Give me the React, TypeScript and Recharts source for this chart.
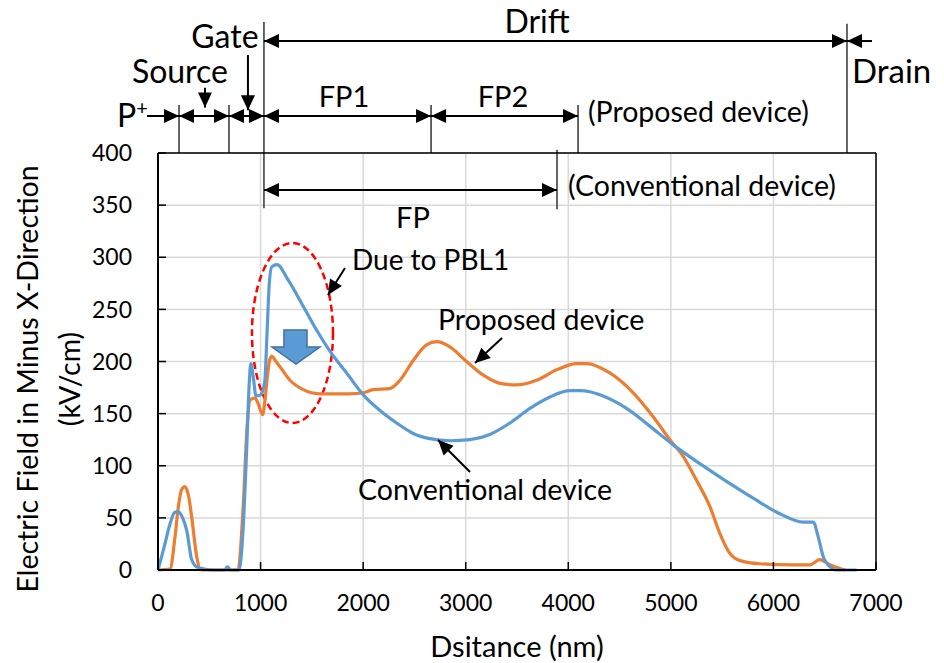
import React from 'react';
import {
  LineChart,
  Line,
  XAxis,
  YAxis,
  CartesianGrid,
  ReferenceLine,
  ReferenceDot,
  ReferenceArea,
} from 'recharts';

// Electric field along the channel (nm -> kV/cm)
const conventionalX = [
  0, 60, 120, 160, 195, 240, 280, 328, 377, 450, 550, 650, 676, 710, 790, 830, 864, 890, 905, 930,
  955, 1000, 1040, 1065, 1085, 1110, 1160, 1270, 1416, 1547, 1676, 1839, 2001, 2164, 2326, 2488,
  2651, 2846, 3041, 3236, 3431, 3626, 3821, 4016, 4113, 4211, 4308, 4568, 4795, 5023, 5283, 5542,
  5802, 6062, 6290, 6388, 6436, 6485, 6566, 6600, 6810,
];
const conventionalE = [
  0, 22, 45, 55, 56, 50, 38, 10, 3, 1, 0, 0, 3, 0, 0, 40, 115, 180, 198, 184,
  167, 168, 180, 232, 275, 291, 293, 278, 253, 230, 210, 189, 168, 153, 141, 131,
  126, 124, 125, 130, 141, 155, 166, 172, 172, 171, 168, 155, 138, 120, 102, 85,
  69, 54, 46, 46, 32, 13, 2, 0, 0,
];

const proposedX = [
  0, 117, 166, 200, 230, 263, 300, 328, 377, 409, 450, 780, 830, 870, 897, 945, 975, 1020, 1045,
  1066, 1090, 1110, 1150, 1189, 1287, 1416, 1579, 1774, 1871, 2001, 2098, 2261, 2359, 2488, 2618,
  2716, 2846, 3008, 3171, 3333, 3496, 3691, 3886, 4081, 4178, 4405, 4633, 4828, 4990, 5120, 5250,
  5380, 5478, 5575, 5673, 5867, 6192, 6355, 6452, 6550, 6647, 6700,
];
const proposedE = [
  0, 1, 32, 62, 77, 80, 70, 51, 13, 1, 0, 0, 60, 140, 163, 165, 160, 149, 165,
  185, 202, 205, 200, 195, 182, 173, 169, 169, 169, 170, 173, 174, 182, 201, 216,
  219, 214, 200, 187, 179, 177.5, 182, 192, 198, 198, 189, 170, 147, 125, 109, 86,
  61, 35, 16, 9, 6, 5, 5, 10, 5, 1.5, 0,
];

const xTicks = [0, 1000, 2000, 3000, 4000, 5000, 6000, 7000];
const yTicks = [0, 50, 100, 150, 200, 250, 300, 350, 400];

const conventional = conventionalX.map((x, i) => ({ x, e: conventionalE[i] }));
const proposed = proposedX.map((x, i) => ({ x, e: proposedE[i] }));

const BLUE = '#5B9BD5';
const ORANGE = '#ED7D31';
const FONT = 'Lato, Carlito, Calibri, sans-serif';

// device region boundaries along the x axis (nm)
const bP = 205;
const bSource = 692;
const bGate = 1033;
const bFP1 = 2662;
const bFP2 = 4095;
const bFP = 3890;
const bDrain = 6717;

type Heads = 'start' | 'end' | 'both' | 'none';

const arrow = (heads: Heads, w = 2) => (p: any) => {
  const { x1, y1, x2, y2 } = p;
  const a = Math.atan2(y2 - y1, x2 - x1);
  const len = 15;
  const half = 7;
  const head = (x: number, y: number, ang: number) => {
    const bx = x - len * Math.cos(ang);
    const by = y - len * Math.sin(ang);
    const px = -Math.sin(ang) * half;
    const py = Math.cos(ang) * half;
    return `${x},${y} ${bx + px},${by + py} ${bx - px},${by - py}`;
  };
  return (
    <g>
      <line x1={x1} y1={y1} x2={x2} y2={y2} stroke="#000" strokeWidth={w} />
      {(heads === 'start' || heads === 'both') && <polygon points={head(x1, y1, a + Math.PI)} fill="#000" />}
      {(heads === 'end' || heads === 'both') && <polygon points={head(x2, y2, a)} fill="#000" />}
    </g>
  );
};

const label = (content: React.ReactNode, size: number, anchor: 'start' | 'middle' | 'end' = 'middle') => (p: any) => (
  <text x={p.cx} y={p.cy} fontSize={size} textAnchor={anchor} fontFamily={FONT} fill="#000">
    {content}
  </text>
);

const ellipse = (p: any) => (
  <ellipse
    cx={p.x + p.width / 2}
    cy={p.y + p.height / 2}
    rx={p.width / 2}
    ry={p.height / 2}
    fill="none"
    stroke="#FF0000"
    strokeWidth={2.5}
    strokeDasharray="7 4"
  />
);

const blockArrow = (p: any) => {
  const { x, y, width: w, height: h } = p;
  const pts = [
    [x + 0.25 * w, y],
    [x + 0.73 * w, y],
    [x + 0.73 * w, y + 0.5 * h],
    [x + w, y + 0.5 * h],
    [x + 0.5 * w, y + h],
    [x, y + 0.5 * h],
    [x + 0.25 * w, y + 0.5 * h],
  ]
    .map((q) => q.join(','))
    .join(' ');
  return <polygon points={pts} fill={BLUE} stroke="#41719C" strokeWidth={1.5} />;
};

const vline = (x: number, y1: number, y2: number) => (
  <ReferenceLine
    segment={[{ x, y: y1 }, { x, y: y2 }]}
    stroke="#000"
    strokeWidth={1.2}
    ifOverflow="visible"
  />
);

const harrow = (xa: number, xb: number, y: number, heads: Heads) => (
  <ReferenceLine
    segment={[{ x: xa, y }, { x: xb, y }]}
    ifOverflow="visible"
    shape={arrow(heads)}
  />
);

const text = (x: number, y: number, content: React.ReactNode, size: number, anchor: 'start' | 'middle' | 'end' = 'middle') => (
  <ReferenceDot x={x} y={y} r={0} ifOverflow="visible" shape={label(content, size, anchor)} />
);

export default function App() {
  return (
    <div style={{ position: 'absolute', left: 0, top: 0, width: 944, height: 663, background: '#fff' }}>
      <LineChart width={944} height={663} margin={{ top: 153, right: 68, bottom: 33, left: 98 }}>
        <CartesianGrid stroke="#d9d9d9" strokeWidth={1.5} />
        <XAxis
          type="number"
          dataKey="x"
          domain={[0, 7000]}
          ticks={xTicks}
          interval={0}
          height={60}
          axisLine={{ stroke: '#000', strokeWidth: 2 }}
          tickLine={{ stroke: '#000', strokeWidth: 1.5 }}
          tickSize={-8}
          tickMargin={33}
          tick={{ fontSize: 23, fill: '#000', fontFamily: FONT }}
          label={{
            content: (p: any) => (
              <text x={p.viewBox.x + p.viewBox.width / 2} y={657} textAnchor="middle" fontSize={29} fontFamily={FONT} fill="#000">
                Dsitance (nm)
              </text>
            ),
          }}
        />
        <YAxis
          type="number"
          domain={[0, 400]}
          ticks={yTicks}
          interval={0}
          width={60}
          axisLine={{ stroke: '#000', strokeWidth: 2 }}
          tickLine={{ stroke: '#000', strokeWidth: 1.5 }}
          tickSize={-8}
          tickMargin={34}
          tick={{ fontSize: 23, fill: '#000', fontFamily: FONT }}
          label={{
            content: () => {
              // title sits a little below the axis midpoint
              const cy = 379;
              return (
                <g fontSize={28.5} fontFamily={FONT} fill="#000" textAnchor="middle">
                  <text x={28} y={cy} dy={10} transform={`rotate(-90, 28, ${cy})`}>
                    Electric Field in Minus X-Direction
                  </text>
                  <text x={70} y={cy} dy={10} transform={`rotate(-90, 70, ${cy})`}>
                    (kV/cm)
                  </text>
                </g>
              );
            },
          }}
        />
        <ReferenceLine y={400} stroke="#000" strokeWidth={1.5} />
        <ReferenceLine x={7000} stroke="#000" strokeWidth={1.5} />

        <Line data={proposed} dataKey="e" type="monotone" stroke={ORANGE} strokeWidth={3.2} dot={false} isAnimationActive={false} />
        <Line data={conventional} dataKey="e" type="monotone" stroke={BLUE} strokeWidth={3.2} dot={false} isAnimationActive={false} />

        {/* region boundaries */}
        {vline(bP, 446, 400)}
        {vline(bSource, 446, 400)}
        {vline(bGate, 525.6, 347)}
        {vline(bFP1, 446, 400)}
        {vline(bFP2, 446, 400)}
        {vline(bFP, 403, 346)}
        {vline(bDrain, 524, 400)}

        {/* region spans */}
        {harrow(-107, bP, 435.5, 'end')}
        {harrow(bP, bSource, 435.5, 'both')}
        {harrow(bSource, bGate, 435.5, 'both')}
        {harrow(bGate, bFP1, 435.5, 'both')}
        {harrow(bFP1, bFP2, 435.5, 'both')}
        {harrow(bGate, bDrain, 507.4, 'both')}
        {harrow(6961, bDrain, 507.4, 'end')}
        {harrow(bGate, bFP, 364.5, 'both')}

        {/* pointers */}
        <ReferenceLine segment={[{ x: 458, y: 462.6 }, { x: 458, y: 443.6 }]} ifOverflow="visible" shape={arrow('end')} />
        <ReferenceLine segment={[{ x: 877, y: 494 }, { x: 877, y: 441 }]} ifOverflow="visible" shape={arrow('end')} />
        <ReferenceLine segment={[{ x: 1823, y: 289.7 }, { x: 1657, y: 263.8 }]} ifOverflow="visible" shape={arrow('end')} />
        <ReferenceLine segment={[{ x: 3354, y: 222.5 }, { x: 3091, y: 198.6 }]} ifOverflow="visible" shape={arrow('end')} />
        <ReferenceLine segment={[{ x: 3042, y: 94 }, { x: 2730, y: 124.7 }]} ifOverflow="visible" shape={arrow('end')} />

        <ReferenceArea x1={916} x2={1706} y1={141} y2={313.7} ifOverflow="visible" shape={ellipse} />
        <ReferenceArea x1={1111} x2={1579} y1={197.6} y2={230.2} ifOverflow="visible" shape={blockArrow} />

        {text(3695, 515, 'Drift', 32)}
        {text(653, 500.7, 'Gate', 32)}
        {text(214, 467, 'Source', 32)}
        {text(6766, 467, 'Drain', 33, 'start')}
        {text(-400, 425, <><tspan>P</tspan><tspan dy={-12} fontSize={20}>+</tspan></>, 32, 'start')}
        {text(1813, 444, 'FP1', 29)}
        {text(3364, 444, 'FP2', 29)}
        {text(2486, 328, 'FP', 29)}
        {text(4192, 429.7, '(Proposed device)', 28.5, 'start')}
        {text(3997, 358.8, '(Conventional device)', 28.5, 'start')}
        {text(1891, 287.8, 'Due to PBL1', 28, 'start')}
        {text(2730, 230, 'Proposed device', 28.5, 'start')}
        {text(1950, 67, 'Conventional device', 28.5, 'start')}
      </LineChart>
    </div>
  );
}
